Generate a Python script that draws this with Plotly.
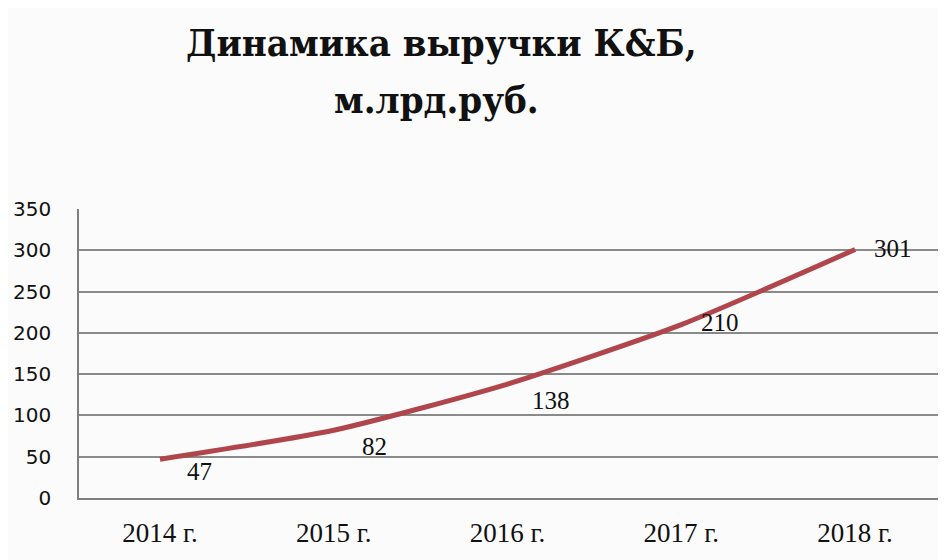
import plotly.graph_objects as go

# Data
years = ["2014 г.", "2015 г.", "2016 г.", "2017 г.", "2018 г."]
revenue = [47, 82, 138, 210, 301]

# label offsets (px) relative to each point
label_dx = [40, 41, 43, 39, 38]
label_dy = [-12, -16, -16, 2, 1]

fig = go.Figure()
fig.add_trace(go.Scatter(
    x=years,
    y=revenue,
    mode="lines",
    line=dict(color="#B0464C", width=5, shape="spline", smoothing=0.6),
    showlegend=False,
))

# data labels
for yr, v, dx, dy in zip(years, revenue, label_dx, label_dy):
    fig.add_annotation(
        x=yr, y=v, text=str(v), showarrow=False,
        xshift=dx, yshift=dy,
        font=dict(family="Liberation Serif", size=25, color="#111111"),
    )

# title, two lines
title_font = dict(family="DejaVu Serif Condensed, DejaVu Serif, serif", size=38, color="#111111")
fig.add_annotation(text="<b>Динамика выручки К&Б,</b>", xref="paper", yref="paper",
                   x=0.4206, y=1.575, xanchor="center", yanchor="middle",
                   showarrow=False, font=title_font)
fig.add_annotation(text="<b>м.лрд.руб.</b>", xref="paper", yref="paper",
                   x=0.4148, y=1.38, xanchor="center", yanchor="middle",
                   showarrow=False, font=title_font)

fig.update_layout(
    width=938,
    height=552,
    margin=dict(l=71, r=4, t=201, b=62),
    paper_bgcolor="#fbfbfb",
    plot_bgcolor="#fbfbfb",
)

fig.update_xaxes(
    type="category",
    range=[-0.466, 4.5],
    showgrid=False,
    showline=True,
    linecolor="#7f7f7f",
    linewidth=1.5,
    ticks="",
    ticklabelstandoff=10,
    tickfont=dict(family="Liberation Serif", size=27, color="#111111"),
)
fig.update_yaxes(
    range=[0, 350],
    dtick=50,
    showgrid=True,
    gridcolor="#8a8a8a",
    gridwidth=1.5,
    showline=True,
    linecolor="#7f7f7f",
    linewidth=1.5,
    zeroline=False,
    ticks="",
    ticklabelstandoff=22,
    tickfont=dict(family="DejaVu Sans", size=20, color="#111111"),
)

fig.write_html("out.html")
